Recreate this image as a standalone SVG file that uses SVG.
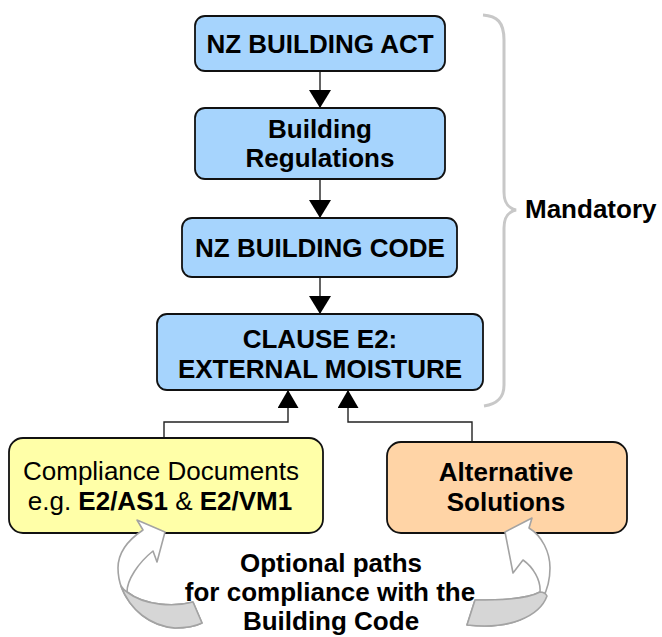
<svg xmlns="http://www.w3.org/2000/svg" width="662" height="637" viewBox="0 0 662 637">
  <defs>
    <marker id="arrow" viewBox="0 0 18 22" refX="18" refY="11" markerWidth="18" markerHeight="22" markerUnits="userSpaceOnUse" orient="auto">
      <path d="M0,0 L18,11 L0,22 Z" fill="#000"/>
    </marker>
    <marker id="arrow-up" viewBox="0 0 18 21" refX="18" refY="10.5" markerWidth="18" markerHeight="21" markerUnits="userSpaceOnUse" orient="auto">
      <path d="M0,0 L18,10.5 L0,21 Z" fill="#000"/>
    </marker>
  </defs>
  <style>
    .box { stroke: #111; stroke-width: 1.8; }
    .blue { fill: #a6d4fd; }
    .yellow { fill: #ffffa8; }
    .orange { fill: #ffd4a6; }
    .t { font-family: "Liberation Sans", Arial, sans-serif; font-size: 26px; fill: #000; }
    .b { font-weight: bold; }
    .c { text-anchor: middle; }
    .conn { fill: none; stroke: #222; stroke-width: 1.4; }
    .curved { fill: #fff; stroke: #a3a3a3; stroke-width: 1.6; stroke-linejoin: round; }
    .shade { fill: #d6d6d6; stroke: #a3a3a3; stroke-width: 1.6; stroke-linejoin: round; }
    .brace { fill: none; stroke: #c8c8c8; stroke-width: 3; }
  </style>
  <rect width="662" height="637" fill="#fff"/>

  <g id="brace">
    <path class="brace" d="M483,15 C497,16 504,22 504,40 L504,192 C504,203 508,208 516,210 C508,212 504,217 504,228 L504,385 C504,398 497,404 484,406"/>
    <text class="t b" x="525" y="218">Mandatory</text>
  </g>

  <g id="connectors">
    <path class="conn" d="M320,71 L320,108" marker-end="url(#arrow)"/>
    <path class="conn" d="M320,179 L320,218" marker-end="url(#arrow)"/>
    <path class="conn" d="M320,277 L320,314" marker-end="url(#arrow)"/>
    <path class="conn" d="M164,438 L164,422 L288,422 L288,390" marker-end="url(#arrow-up)"/>
    <path class="conn" d="M472,442 L472,422 L348,422 L348,390" marker-end="url(#arrow-up)"/>
  </g>

  <g id="node-act">
    <rect class="box blue" x="195" y="16" width="250" height="55" rx="10"/>
    <text class="t b c" x="320" y="53">NZ BUILDING ACT</text>
  </g>
  <g id="node-regulations">
    <rect class="box blue" x="195" y="108" width="250" height="71" rx="10"/>
    <text class="t b c" x="320" y="138">Building</text>
    <text class="t b c" x="320" y="167">Regulations</text>
  </g>
  <g id="node-code">
    <rect class="box blue" x="182" y="218" width="275" height="59" rx="10"/>
    <text class="t b c" x="320" y="257">NZ BUILDING CODE</text>
  </g>
  <g id="node-e2">
    <rect class="box blue" x="157" y="314" width="326" height="76" rx="10"/>
    <text class="t b c" x="320" y="348">CLAUSE E2:</text>
    <text class="t b c" x="320" y="378">EXTERNAL MOISTURE</text>
  </g>
  <g id="node-compliance">
    <rect class="box yellow" x="9" y="438" width="314" height="95" rx="14"/>
    <text class="t c" x="161" y="480">Compliance Documents</text>
    <text class="t c" x="160" y="510">e.g. <tspan class="b">E2/AS1</tspan> &amp; <tspan class="b">E2/VM1</tspan></text>
  </g>
  <g id="node-alternative">
    <rect class="box orange" x="387" y="442" width="240" height="91" rx="14"/>
    <text class="t b c" x="506" y="481">Alternative</text>
    <text class="t b c" x="506" y="511">Solutions</text>
  </g>

  <g id="curved-arrow-left">
    <path class="curved" d="M143,530 C128,540 118,553 118,568 C118,595 140,625 175,628 C188,628 196,626 202,623 L193,602 C175,607 145,606 127,592 C127,580 138,563 153,551 L157,562 L165,532 L137,520 Z"/>
    <path class="shade" d="M127,592 C145,606 175,607 193,602 L202,623 C196,626 188,628 175,628 C150,626 130,610 121,586 C123,589 125,591 127,592 Z"/>
  </g>
  <g id="curved-arrow-right">
    <path class="curved" d="M529,528 C542,536 550,552 550,568 C550,590 540,610 520,620 C505,626 485,627 467,625 L475,600 C495,600 525,600 540,592 C541,580 533,567 523,560 L513,573 L505,532 L532,518 Z"/>
    <path class="shade" d="M475,600 C495,600 525,600 540,592 C543,592 546,594 547,596 C543,607 533,615 520,620 C505,626 485,627 467,625 Z"/>
  </g>

  <g id="label-optional">
    <text class="t b c" x="331" y="572">Optional paths</text>
    <text class="t b c" x="330" y="601">for compliance with the</text>
    <text class="t b c" x="331" y="630">Building Code</text>
  </g>
</svg>
